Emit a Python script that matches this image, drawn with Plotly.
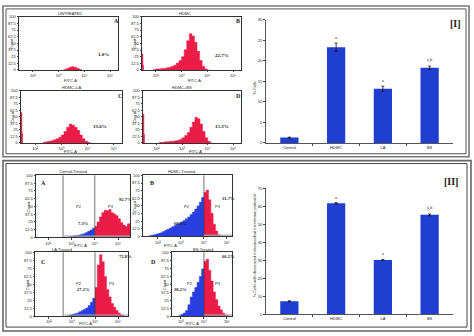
import numpy as np
import plotly.graph_objects as go

W, H = 474, 336


def px(x):
    return x / W


def py(y):
    return 1 - y / H


# ---------------- bar-chart data ----------------
groups = ["Control", "HDMC", "LA", "BS"]
apoptotic_pct = [1.3, 23.3, 13.2, 18.3]
apoptotic_err = [0.1, 1.0, 0.6, 0.4]
apoptotic_sig = ["", "a", "a", "a,b"]
mmp_loss_pct = [7.2, 61.6, 30.2, 55.2]
mmp_loss_err = [0.3, 0.4, 0.3, 0.5]
mmp_loss_sig = ["", "a", "a", "a,b"]

# ---------------- Annexin V-FITC histograms (panel I) ----------------
# counts per 0.1-decade bin, first bin starting at the given decade
ann_a_start, ann_a_counts = 3.2, [1, 3, 5, 6, 5, 3, 1]
ann_b_start, ann_b_counts = 1.9, [1, 2, 2, 3, 3, 4, 5, 7, 9, 13, 18, 25, 38, 55, 68,
                                  64, 52, 35, 18, 7, 2, 0]
ann_c_start, ann_c_counts = 2.3, [1, 2, 3, 4, 6, 8, 11, 15, 22, 30, 36, 34, 30, 24,
                                  15, 8, 3, 1]
ann_d_start, ann_d_counts = 2.1, [1, 1, 2, 2, 3, 3, 4, 5, 7, 10, 14, 20, 30, 40, 49,
                                  46, 36, 22, 10, 3, 0]
ann_edge_spike = [0, 30, 58, 55]          # debris pile-up at the axis
ann_pct = ["1.0%", "22.7%", "13.6%", "15.3%"]
ann_titles = ["UNTREATED", "HDMC", "HDMC+LA", "HDMC+BS"]

# ---------------- membrane-potential histograms (panel II) ----------------
mmp_a_low_start, mmp_a_low = 2.9, [1, 2, 3, 3, 4, 5, 6, 8, 10, 12, 15]
mmp_a_high_start, mmp_a_high = 4.0, [18, 25, 33, 40, 44, 43, 45, 40, 38, 35, 30, 24,
                                     20, 18, 22, 20]
mmp_b_low_start, mmp_b_low = 1.6, [1, 2, 3, 4, 5, 6, 8, 10, 12, 14, 16, 18, 20, 22, 24,
                                   26, 29, 32, 36, 40, 45, 50, 56, 64]
mmp_b_high_start, mmp_b_high = 4.0, [72, 76, 60, 38, 20, 9, 3, 1]
mmp_c_low_start, mmp_c_low = 2.8, [1, 2, 3, 4, 5, 7, 9, 11, 13, 17, 22, 28]
mmp_c_high_start, mmp_c_high = 4.0, [45, 80, 96, 85, 62, 42, 30, 20, 14, 9, 5, 2, 1]
mmp_d_low_start, mmp_d_low = 2.9, [1, 3, 5, 9, 18, 30, 38, 45, 53, 62, 74]
mmp_d_high_start, mmp_d_high = 4.0, [86, 89, 72, 55, 38, 26, 16, 10, 5, 2, 1]
mmp_high_pct = ["92.7%", "31.7%", "72.8%", "66.2%"]
mmp_low_pct = ["7.3%", "68.3%", "27.2%", "38.2%"]
mmp_titles = ["Control-Treated", "HDMC-Treated", "LA-Treated", "BS-Treated"]

# log-decade tick labels of the FITC axis
dec_vals = [2, 3, 4, 5]
dec_text = ["10²", "10³", "10⁴", "10⁵"]

RED = "rgb(236,28,72)"
BLUE_H = "rgb(40,62,222)"
BAR = "rgb(32,62,208)"
BIN = 0.1
TINY = 4

fig = go.Figure()


def step_trace(start, counts, color, axis_id, step=BIN):
    xs = list(start + step * np.arange(len(counts))) + [start + step * len(counts)]
    ys = list(counts) + [counts[-1]]
    sfx = "" if axis_id == 1 else str(axis_id)
    fig.add_trace(go.Scatter(
        x=xs, y=ys, mode="lines", line=dict(shape="hv", width=0.5, color=color),
        fill="tozeroy", fillcolor=color, xaxis="x" + sfx, yaxis="y" + sfx,
        hoverinfo="skip", showlegend=False))


# subplot boxes in pixels: (x0, x1, y_top, y_bottom, decade range)
hist_boxes = {
    1: (19, 118, 14, 68, [1.46, 5.31]),
    2: (142, 241, 14, 68, [1.46, 5.31]),
    3: (21, 122, 89, 142, [1.46, 5.31]),
    4: (143, 241, 89, 142, [1.46, 5.31]),
    6: (36, 130, 175, 238, [1.48, 5.51]),
    7: (143, 232, 175, 237, [1.35, 5.22]),
    8: (35, 128, 253, 318, [1.40, 5.43]),
    9: (172, 232, 253, 318, [2.61, 5.22]),
}

# panel I histograms
for ax, (start, counts) in zip([1, 2, 3, 4], [(ann_a_start, ann_a_counts),
                                              (ann_b_start, ann_b_counts),
                                              (ann_c_start, ann_c_counts),
                                              (ann_d_start, ann_d_counts)]):
    step_trace(start, counts, RED, ax)
for ax, spike in zip([1, 2, 3, 4], ann_edge_spike):
    if spike:
        step_trace(1.46, [spike, spike * 0.3], RED, ax, step=0.035)

# panel II histograms
for ax, lo, hi in [
    (6, (mmp_a_low_start, mmp_a_low), (mmp_a_high_start, mmp_a_high)),
    (7, (mmp_b_low_start, mmp_b_low), (mmp_b_high_start, mmp_b_high)),
    (8, (mmp_c_low_start, mmp_c_low), (mmp_c_high_start, mmp_c_high)),
    (9, (mmp_d_low_start, mmp_d_low), (mmp_d_high_start, mmp_d_high)),
]:
    step_trace(lo[0], lo[1], BLUE_H, ax)
    step_trace(hi[0], hi[1], RED, ax)

# bar charts
for ax, vals, errs in [(5, apoptotic_pct, apoptotic_err), (10, mmp_loss_pct, mmp_loss_err)]:
    fig.add_trace(go.Bar(
        x=list(range(len(groups))), y=vals, width=0.39, marker_color=BAR,
        marker_line_width=0,
        error_y=dict(type="data", array=errs, thickness=0.8, width=1.5, color="#111"),
        xaxis="x" + str(ax), yaxis="y" + str(ax), showlegend=False, hoverinfo="skip"))

layout = dict(width=W, height=H, margin=dict(l=0, r=0, t=0, b=0),
              paper_bgcolor="white", plot_bgcolor="white", showlegend=False,
              font=dict(family="Liberation Sans", color="#222"))

for ax, (x0, x1, yt, yb, rng) in hist_boxes.items():
    sfx = "" if ax == 1 else str(ax)
    layout["xaxis" + sfx] = dict(
        domain=[px(x0), px(x1)], range=rng, anchor="y" + sfx, showline=True, mirror=True,
        linecolor="#333", linewidth=0.8, ticks="outside", ticklen=1.5, tickwidth=0.6,
        tickvals=dec_vals, ticktext=dec_text, tickfont=dict(size=TINY), showgrid=False,
        zeroline=False, fixedrange=True)
    layout["yaxis" + sfx] = dict(
        domain=[py(yb), py(yt)], range=[0, 100], anchor="x" + sfx, showline=True,
        mirror=True, linecolor="#333", linewidth=0.8, ticks="outside", ticklen=1.5,
        tickwidth=0.6, dtick=12.5, tickfont=dict(size=TINY), showgrid=False,
        zeroline=False, fixedrange=True)

for ax, yt, yb, ymax, dt in [(5, 17, 142, 30, 5), (10, 188, 316, 70, 10)]:
    layout["xaxis" + str(ax)] = dict(
        domain=[px(266), px(453)], range=[-0.5, 3.5], anchor="y" + str(ax),
        showline=True, linecolor="#555", linewidth=0.8, tickvals=[0, 1, 2, 3],
        ticktext=groups, ticks="", tickfont=dict(size=4),
        minor=dict(ticks="outside", tickvals=[0.5, 1.5, 2.5], ticklen=2, tickwidth=0.6),
        showgrid=False, zeroline=False, fixedrange=True)
    layout["yaxis" + str(ax)] = dict(
        domain=[py(yb), py(yt)], range=[0, ymax], anchor="x" + str(ax), showline=True,
        linecolor="#555", linewidth=0.8, ticks="outside", ticklen=2, tickwidth=0.6,
        dtick=dt, tickfont=dict(size=4), showgrid=False, zeroline=False,
        fixedrange=True)

annotations = []
shapes = []


def note(x, y, text, size=TINY, bold=False, serif=False, angle=0, color="#222"):
    annotations.append(dict(
        x=px(x), y=py(y), xref="paper", yref="paper", showarrow=False,
        text=f"<b>{text}</b>" if bold else text, textangle=angle,
        font=dict(size=size, color=color,
                  family="Liberation Serif" if serif else "Liberation Sans"),
        xanchor="center", yanchor="middle"))


# panel borders (double frame)
for (x0, y0, x1, y1, w, c) in [(3, 3, 469, 156, 1.6, "#777"), (6, 6, 466, 153, 1.0, "#555"),
                               (3, 160, 471, 333, 1.6, "#666"), (6, 163, 467, 329, 1.0, "#444")]:
    shapes.append(dict(type="rect", xref="paper", yref="paper", x0=px(x0), x1=px(x1),
                       y0=py(y1), y1=py(y0), line=dict(color=c, width=w)))

# panel I histogram labels
for (lx, ly), (tx, ty), (cx, cy), letter, pct, title in zip(
        [(116, 18), (238, 18), (120, 94), (239, 94)],
        [(70, 11), (185, 11), (72, 86), (182, 86)],
        [(103, 52), (222, 53), (100, 125), (222, 125)],
        "ABCD", ann_pct, ann_titles):
    note(lx, ly, letter, size=6, bold=True, serif=True)
    note(tx, ty, title)
    note(cx, cy, pct, size=5, bold=True, serif=True)
for (x0, x1, yt, yb, _r), xl in zip([hist_boxes[i] for i in (1, 2, 3, 4)],
                                    [(70, 78.5), (194, 78.5), (70, 151), (195, 151)]):
    note(xl[0], xl[1], "FITC-A")
    note(x0 - 8, (yt + yb) / 2, "Count", angle=-90)

# panel II histogram labels and gates
for ax, letter, (lx, ly), (hx, hy), (lox, loy), (tx, ty), (xlx, xly), gates, (p2x, p3x, py_) in [
    (6, "A", (43, 183), (125, 199), (83, 224), (73, 171), (80, 246.5), [2.64, 4.0], (79, 111, 207)),
    (7, "B", (152, 183), (228, 198), (180, 224), (181, 171), (170, 246.5), [4.0], (187, 218, 207)),
    (8, "C", (43, 263), (125, 257), (83, 291), (62, 250.5), (85, 325), [2.62, 4.0], (79, 112, 285)),
    (9, "D", (153, 263), (228, 257), (180, 291), (203, 250), (192, 325), [4.0], (190, 218, 285)),
]:
    i = ax - 6
    note(lx, ly, letter, size=6, bold=True, serif=True)
    note(hx, hy, mmp_high_pct[i], size=4.5, bold=True, serif=True)
    note(lox, loy, mmp_low_pct[i], size=4.5, bold=True, serif=True)
    note(tx, ty, mmp_titles[i])
    note(xlx, xly, "FITC-A")
    note(p2x, py_, "P2")
    note(p3x, py_, "P3")
    x0, x1, yt, yb, rng = hist_boxes[ax]
    note(x0 - 8, (yt + yb) / 2, "Count", angle=-90)
    for g in gates:
        shapes.append(dict(type="line", xref="x" + str(ax), yref=f"y{ax} domain",
                           x0=g, x1=g, y0=0, y1=1, line=dict(color="#333", width=0.7)))
    shapes.append(dict(type="line", xref="x" + str(ax), yref=f"y{ax} domain",
                       x0=gates[0], x1=rng[1], y0=0.02, y1=0.02,
                       line=dict(color="#aaa", width=1.2)))

# bar-chart significance marks, titles and axis labels
for ax, vals, errs, sig in [(5, apoptotic_pct, apoptotic_err, apoptotic_sig),
                            (10, mmp_loss_pct, mmp_loss_err, mmp_loss_sig)]:
    for i, (v, e, s) in enumerate(zip(vals, errs, sig)):
        if s:
            annotations.append(dict(x=i, y=v + e, xref="x" + str(ax), yref="y" + str(ax),
                                    text=s, showarrow=False, yanchor="bottom", yshift=1,
                                    font=dict(size=4.5, family="Liberation Serif")))
note(455, 21, "[I]", size=10, bold=True, serif=True)
note(451, 181, "[II]", size=10, bold=True, serif=True)
note(255, 86, "% Cells", angle=-90)
note(254, 247, "% Cells with decreased mitochondrial membrane potential", size=4, angle=-90)

layout["annotations"] = annotations
layout["shapes"] = shapes
fig.update_layout(**layout)
fig.write_html("out.html")
